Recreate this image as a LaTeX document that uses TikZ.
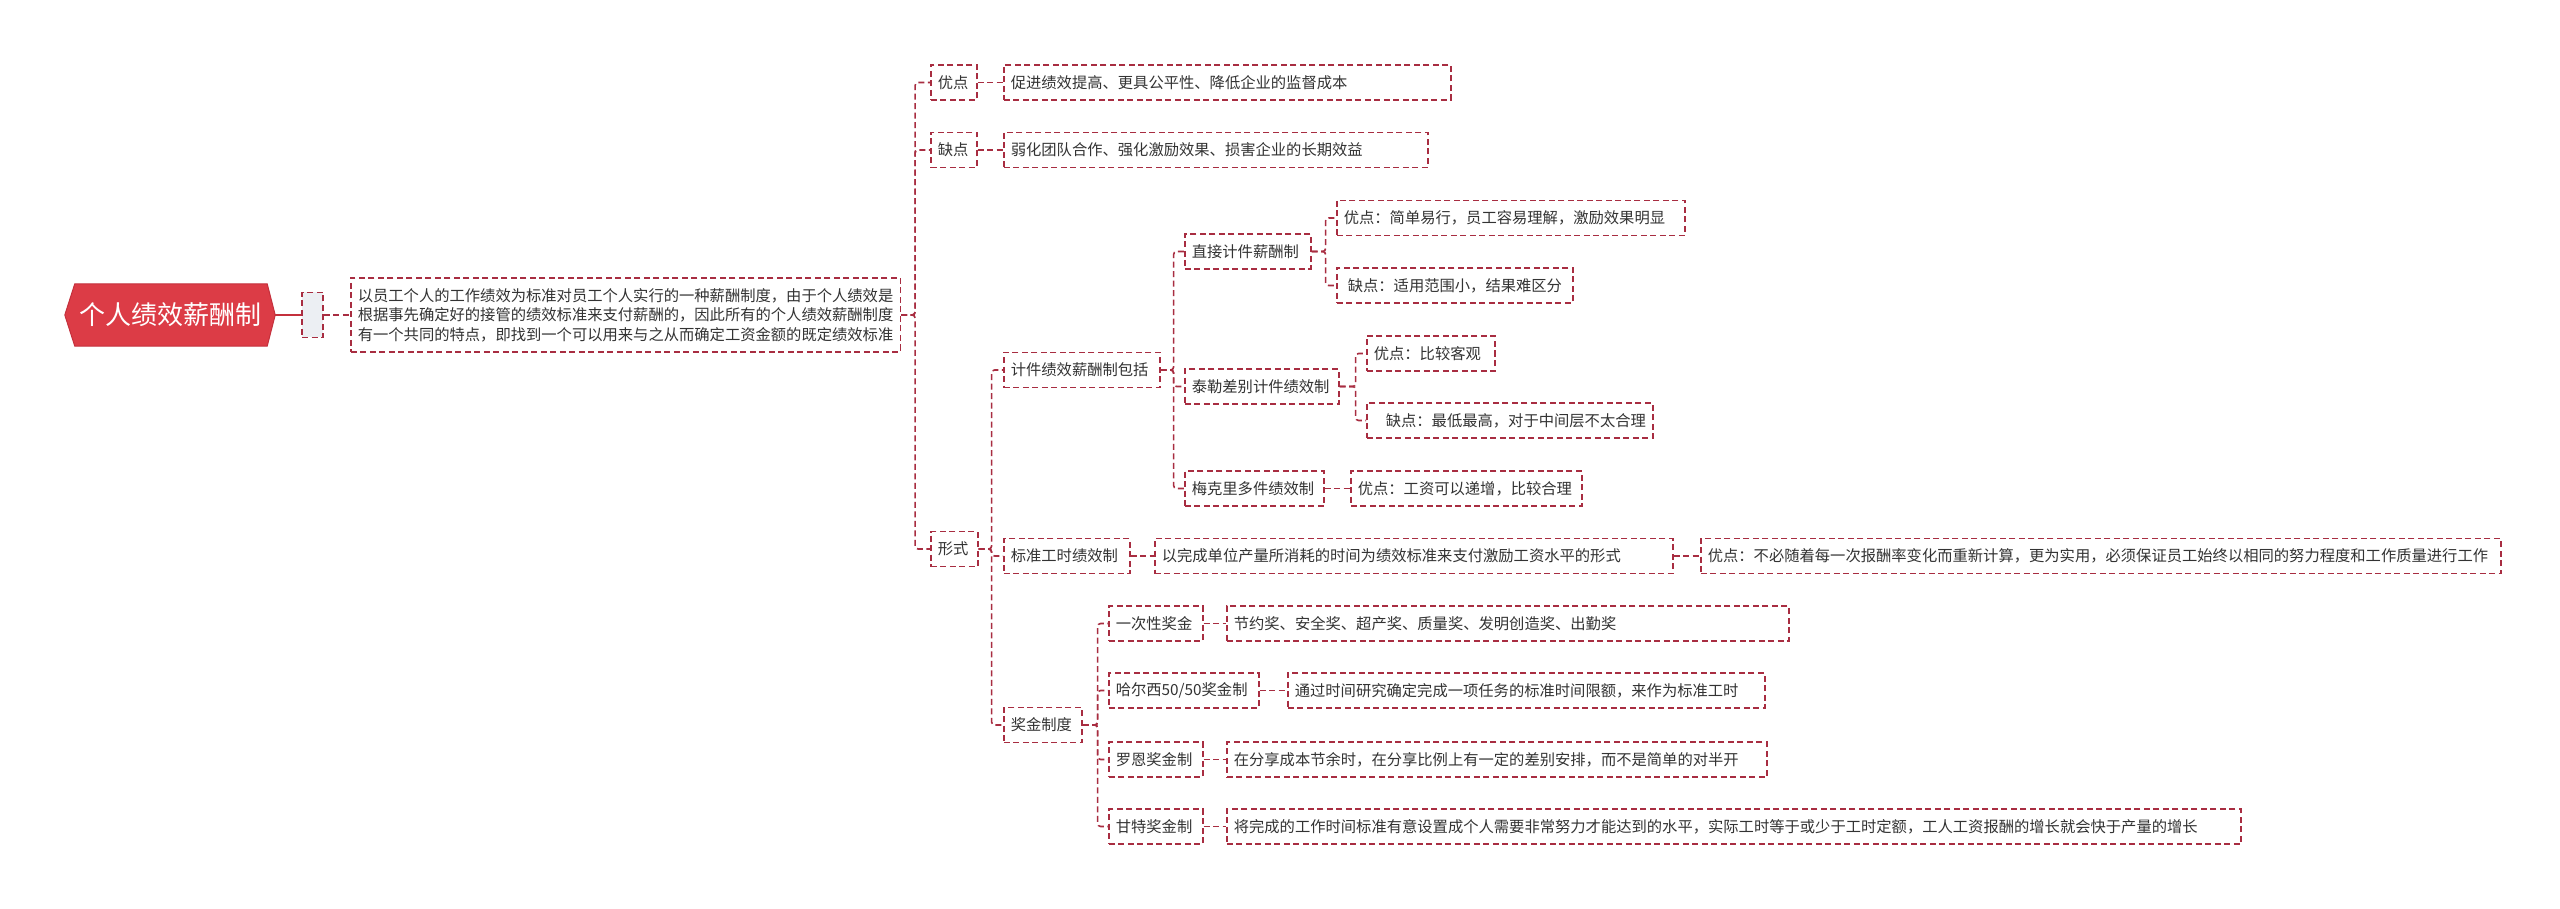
\documentclass[tikz,border=0pt]{standalone}
\usepackage{fontspec}
\setmainfont{Noto Sans CJK SC}
\usetikzlibrary{backgrounds}
\definecolor{lc}{RGB}{168,45,65}
\definecolor{hexfill}{RGB}{220,60,70}
\definecolor{hexline}{RGB}{196,48,60}
\definecolor{tc}{RGB}{51,51,51}
\definecolor{gfill}{RGB}{236,239,243}
\newcommand\fs{\fontsize{15.3}{19.5}\selectfont}
\newcommand\lbx[2]{\makebox[#1pt][l]{#2}}
\begin{document}
\begin{tikzpicture}[x=1pt,y=-1pt,
 box/.style={draw=lc, line width=1.6pt, dash pattern=on 6pt off 3.5pt, minimum height=35pt, inner xsep=7pt, inner ysep=0pt, anchor=west, text=tc, font=\fs},
 conn/.style={draw=lc, line width=1.6pt, dash pattern=on 6pt off 3.5pt, rounded corners=3pt},
]
\useasboundingbox (0,0) rectangle (2560,909);
\begin{scope}[on background layer]
\fill[white] (0,0) rectangle (2560,909);
\end{scope}

% root
\node[font=\fontsize{26}{30}\selectfont, text=white, minimum width=210pt, minimum height=62pt, inner sep=0pt] (root) at (170,315) {个人绩效薪酬制};
\begin{scope}[on background layer]
\filldraw[fill=hexfill, draw=hexline, line width=1pt] (root.west) -- ([xshift=10pt]root.north west) -- ([xshift=-8pt]root.north east) -- (root.east) -- ([xshift=-8pt]root.south east) -- ([xshift=10pt]root.south west) -- cycle;
\end{scope}
\node[draw=lc, line width=1.6pt, dash pattern=on 6pt off 3.5pt, fill=gfill, minimum width=21pt, minimum height=45pt, inner sep=0pt] (g) at (312.5,315) {};
\node[box, align=left, minimum height=74pt, inner xsep=7pt] (desc) at (350,315) {以员工个人的工作绩效为标准对员工个人实行的一种薪酬制度，由于个人绩效是\\根据事先确定好的接管的绩效标准来支付薪酬的，因此所有的个人绩效薪酬制度\\有一个共同的特点，即找到一个可以用来与之从而确定工资金额的既定绩效标准};

% level 1
\node[box] (k1) at (930,82.5) {\lbx{32}{优点}};
\node[box] (l1) at (1003,82.5) {\lbx{433}{促进绩效提高、更具公平性、降低企业的监督成本}};
\node[box] (k2) at (930,150) {\lbx{32}{缺点}};
\node[box] (l2) at (1003,150) {\lbx{410}{弱化团队合作、强化激励效果、损害企业的长期效益}};
\node[box] (k3) at (930,549) {\lbx{33}{形式}};

% level 2
\node[box] (a1) at (1003,370) {\lbx{142}{计件绩效薪酬制包括}};
\node[box] (a2) at (1003,556) {\lbx{112}{标准工时绩效制}};
\node[box] (a3) at (1003,725) {\lbx{64}{奖金制度}};

% piece rate
\node[box] (b1) at (1184,251.5) {\lbx{112}{直接计件薪酬制}};
\node[box] (b2) at (1184,386.5) {\lbx{140}{泰勒差别计件绩效制}};
\node[box] (b3) at (1184,488.5) {\lbx{125}{梅克里多件绩效制}};
\node[box] (c1) at (1336,218) {\lbx{334}{优点：简单易行，员工容易理解，激励效果明显}};
\node[box] (c2) at (1336,285.5) {\lbx{222}{\hspace{4pt}缺点：适用范围小，结果难区分}};
\node[box] (c3) at (1366,353.5) {\lbx{114}{优点：比较客观}};
\node[box] (c4) at (1366,420.5) {\lbx{272}{\hspace{12pt}缺点：最低最高，对于中间层不太合理}};
\node[box] (c5) at (1350,488.5) {\lbx{217}{优点：工资可以递增，比较合理}};

% standard hour
\node[box] (d1) at (1154,556) {\lbx{504}{以完成单位产量所消耗的时间为绩效标准来支付激励工资水平的形式}};
\node[box] (d2) at (1700,556) {\lbx{786}{优点：不必随着每一次报酬率变化而重新计算，更为实用，必须保证员工始终以相同的努力程度和工作质量进行工作}};

% bonus
\node[box] (e1) at (1108,623.5) {\lbx{80}{一次性奖金}};
\node[box] (e2) at (1108,690.5) {\lbx{136}{哈尔西50/50奖金制}};
\node[box] (e3) at (1108,759.5) {\lbx{80}{罗恩奖金制}};
\node[box] (e4) at (1108,826.5) {\lbx{80}{甘特奖金制}};
\node[box] (f1) at (1226,623.5) {\lbx{548}{节约奖、安全奖、超产奖、质量奖、发明创造奖、出勤奖}};
\node[box] (f2) at (1287,690.5) {\lbx{463}{通过时间研究确定完成一项任务的标准时间限额，来作为标准工时}};
\node[box] (f3) at (1226,759.5) {\lbx{526}{在分享成本节余时，在分享比例上有一定的差别安排，而不是简单的对半开}};
\node[box] (f4) at (1226,826.5) {\lbx{1000}{将完成的工作时间标准有意设置成个人需要非常努力才能达到的水平，实际工时等于或少于工时定额，工人工资报酬的增长就会快于产量的增长}};

% connectors
\draw[hexline, line width=2pt] (root.east) -- (g.west);
\draw[conn] (g.east) -- (desc.west);
\foreach \c in {k1,k2,k3} \draw[conn] (desc.east) -- ++(14,0) |- (\c.west);
\draw[conn] (k1.east) -- (l1.west);
\draw[conn] (k2.east) -- (l2.west);
\foreach \c in {a1,a2,a3} \draw[conn] (k3.east) -- ++(13,0) |- (\c.west);
\foreach \c in {b1,b2,b3} \draw[conn] (a1.east) -- ++(13,0) |- (\c.west);
\foreach \c in {c1,c2} \draw[conn] (b1.east) -- ++(14,0) |- (\c.west);
\foreach \c in {c3,c4} \draw[conn] (b2.east) -- ++(16,0) |- (\c.west);
\draw[conn] (b3.east) -- (c5.west);
\draw[conn] (a2.east) -- (d1.west);
\draw[conn] (d1.east) -- (d2.west);
\foreach \c in {e1,e2,e3,e4} \draw[conn] (a3.east) -- ++(15,0) |- (\c.west);
\draw[conn] (e1.east) -- (f1.west);
\draw[conn] (e2.east) -- (f2.west);
\draw[conn] (e3.east) -- (f3.west);
\draw[conn] (e4.east) -- (f4.west);
\end{tikzpicture}
\end{document}
